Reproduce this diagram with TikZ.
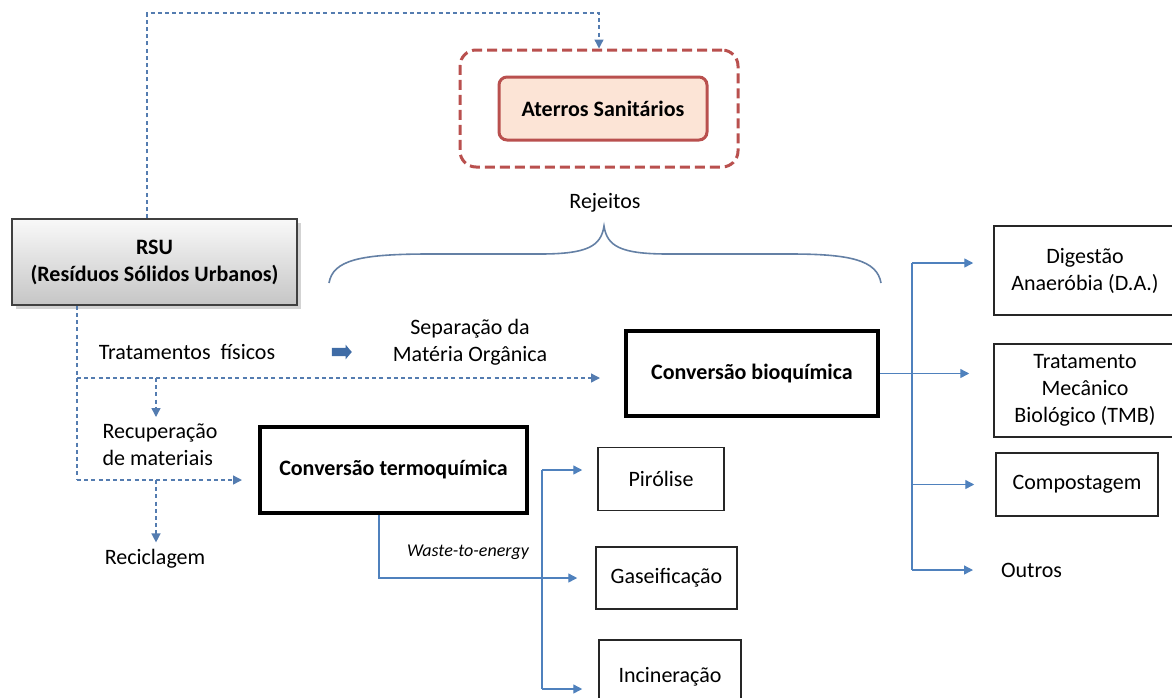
\documentclass[tikz,border=0pt]{standalone}
\usepackage{fontspec}
\setmainfont{Carlito}
\usetikzlibrary{arrows.meta,shapes.arrows,shadows}
\definecolor{lineblue}{RGB}{79,129,189}
\definecolor{dashblue}{RGB}{84,124,176}
\definecolor{landred}{RGB}{185,80,78}
\definecolor{landfill}{RGB}{252,228,214}
\definecolor{bracecol}{RGB}{100,128,165}
\definecolor{arrowfill}{RGB}{63,108,166}

\begin{document}
\begin{tikzpicture}[x=0.5pt,y=-0.5pt,font=\fontsize{11}{13.5}\selectfont,
  box/.style={draw=black!85,line width=0.75pt,inner sep=0pt,align=center},
  bigbox/.style={draw=black,line width=2pt,inner sep=0pt,font=\fontsize{11}{13.5}\selectfont\bfseries},
  flow/.style={draw=lineblue,line width=0.7pt},
  dashflow/.style={draw=dashblue,line width=0.7pt,dash pattern=on 2pt off 1.6pt},
  tip/.style={-{Triangle[length=4.5pt,width=4.5pt]}}]
\useasboundingbox (0,0) rectangle (1172,697);
\clip (0,0) rectangle (1172,697);

\node[draw=black!75,line width=0.8pt,top color=gray!5,bottom color=gray!45,
  drop shadow={shadow xshift=2pt,shadow yshift=-2pt,opacity=0.35},
  minimum width=142.5pt,minimum height=43pt,inner sep=0pt,align=center,
  font=\fontsize{11}{13.5}\selectfont\bfseries] (rsu) at (154.5,262) {RSU\\(Resíduos Sólidos Urbanos)};

\node[draw=landred,line width=1.5pt,dash pattern=on 5pt off 2.5pt,rounded corners=8pt,
  minimum width=139pt,minimum height=58.5pt] (outer) at (599,108.5) {};
\node[draw=landred,line width=1.5pt,fill=landfill,rounded corners=4pt,
  minimum width=104pt,minimum height=31.5pt,inner sep=0pt,
  font=\fontsize{11}{13.5}\selectfont\bfseries] (aterros) at (603,108.5) {Aterros Sanitários};

\node (rejeitos) at (605,203) {Rejeitos};
\draw[bracecol,line width=0.8pt] (329,283) .. controls (333,260) and (360,254) .. (430,254) -- (540,254)
  .. controls (588,254) and (601,246) .. (604,226) .. controls (607,246) and (620,254) .. (668,254)
  -- (790,254) .. controls (850,254) and (877,260) .. (881,283);

\node (tratam) at (187,352) {Tratamentos\ \ físicos};
\node[single arrow,fill=arrowfill,inner sep=1.9pt,minimum height=10pt,
  single arrow head extend=1.6pt,single arrow tip angle=100] (bigarrow) at (340,352) {};
\node[align=center] (separ) at (470,342) {Separação da\\Matéria Orgânica};

\node[bigbox,minimum width=126pt,minimum height=42.5pt] (bio) at (752,373.5) {Conversão bioquímica};
\node[bigbox,minimum width=133.5pt,minimum height=43pt] (termo) at (393.5,470) {Conversão termoquímica};

\node[align=left] (recup) at (160,445) {Recuperação\\de materiais};
\node (recicl) at (155,559) {Reciclagem};

\node[box,minimum width=63pt,minimum height=31.5pt] (pirolise) at (661,479) {Pirólise};
\node[box,minimum width=70.5pt,minimum height=31pt] (gaseif) at (666.5,578) {Gaseificação};
\node[box,minimum width=71pt,minimum height=37pt] (incin) at (670,677) {Incineração};
\node[font=\fontsize{9}{11}\selectfont\itshape] (waste) at (468,552) {Waste-to-energy};

\node[box,minimum width=91pt,minimum height=44.5pt] (digest) at (1085,270.5) {Digestão\\Anaeróbia (D.A.)};
\node[box,minimum width=91pt,minimum height=46.5pt] (tmb) at (1085,390.5) {Tratamento\\Mecânico\\Biológico (TMB)};
\node[box,minimum width=81pt,minimum height=31.5pt] (compost) at (1077,484.5) {Compostagem};
\node[anchor=west] (outros) at (994,570) {Outros};

\coordinate (tl) at (147,13);
\coordinate (d1) at (77,378);
\coordinate (d2) at (77,480);
\coordinate (b1) at (156,378);
\coordinate (b2) at (156,480);
\coordinate (w1) at (379,0);
\coordinate (v1) at (542,470);
\coordinate (v2) at (542,689);
\coordinate (r1) at (912,263);
\coordinate (r2) at (912,570);

\draw[dashflow,tip] (rsu.north -| tl) -- (tl) -| (outer.north);
\draw[dashflow] (rsu.south -| d1) -- (d2);
\draw[dashflow,tip,shorten >=12pt] (d1) -- (d1 -| bio.west);
\draw[dashflow,tip] (b1) -- (b1 |- recup.north);
\draw[dashflow,tip,shorten >=8pt] (d2) -- (d2 -| termo.west);
\draw[dashflow,tip] (b2) -- (b2 |- recicl.north);

\draw[flow,tip,shorten >=9pt] (termo.south -| w1) |- (gaseif.west);
\draw[flow] (v1) -- (v2);
\draw[flow,tip,shorten >=7.5pt] (v1) -- (v1 -| pirolise.west);
\draw[flow,tip,shorten >=8pt] (v2) -- (v2 -| incin.west);

\draw[flow] (r1) -- (r2);
\draw[flow,tip,shorten >=12pt] (bio.east) -- (bio.east -| tmb.west);
\draw[flow,tip,shorten >=10pt] (r1) -- (r1 -| digest.west);
\draw[flow,tip,shorten >=10.5pt] (r1 |- compost.west) -- (compost.west);
\draw[flow,tip,shorten >=10.5pt] (r2) -- (outros.west);
\end{tikzpicture}
\end{document}
